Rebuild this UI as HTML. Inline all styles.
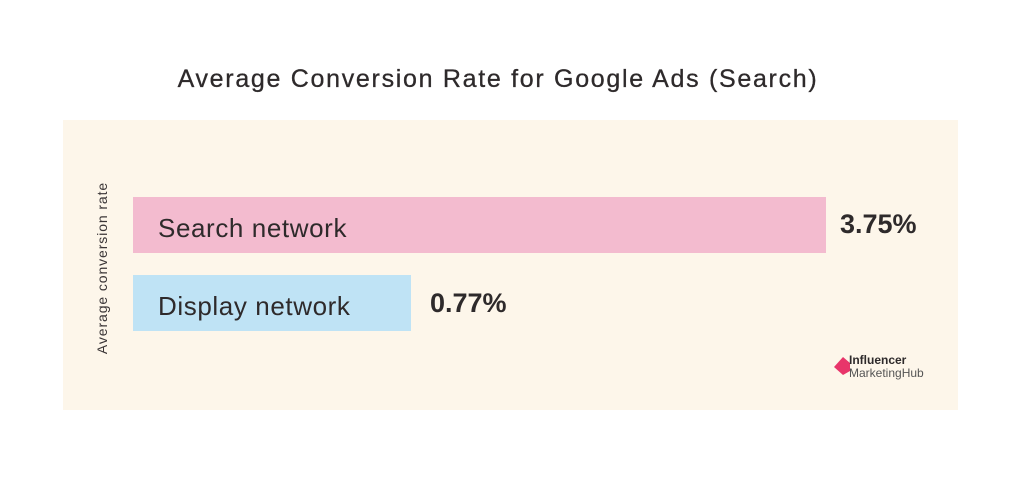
<!DOCTYPE html>
<html><head><style>
body{margin:0;width:1024px;height:488px;background:#fff;position:relative;font-family:"Liberation Sans",sans-serif;color:#2e2a2b;overflow:hidden}
.a{position:absolute}
</style></head><body>
<div class="a" style="left:-14px;top:65px;width:1024px;text-align:center;font-size:25px;letter-spacing:1.7px;font-weight:500;-webkit-text-stroke:0.3px #2e2a2b">Average Conversion Rate for Google Ads (Search)</div>
<div class="a" style="left:63px;top:120px;width:895px;height:290px;background:#fdf6ea"></div>
<div class="a" style="left:102px;top:268px;width:0;height:0"><div style="position:absolute;transform:translate(-50%,-50%) rotate(-90deg);white-space:nowrap;font-size:14px;letter-spacing:0.9px;color:#3a3536">Average conversion rate</div></div>
<div class="a" style="left:133px;top:197px;width:693px;height:56px;background:#f3bbcf"></div>
<div class="a" style="left:158px;top:213px;font-size:26px;letter-spacing:0.6px">Search network</div>
<div class="a" style="left:840px;top:209px;font-size:27px;font-weight:bold">3.75%</div>
<div class="a" style="left:133px;top:275px;width:278px;height:56px;background:#bfe3f5"></div>
<div class="a" style="left:158px;top:291px;font-size:26px;letter-spacing:0.6px">Display network</div>
<div class="a" style="left:430px;top:288px;font-size:27px;font-weight:bold">0.77%</div>
<svg class="a" style="left:834px;top:357px" width="16" height="20"><polygon points="9,0 0,10 9,18 16,14 16,6" fill="#e8356a"/></svg>
<div class="a" style="left:849px;top:354px;font-size:12px;font-weight:bold;line-height:13px">Influencer</div>
<div class="a" style="left:849px;top:367px;font-size:12px;line-height:13px;color:#555">MarketingHub</div>
</body></html>
